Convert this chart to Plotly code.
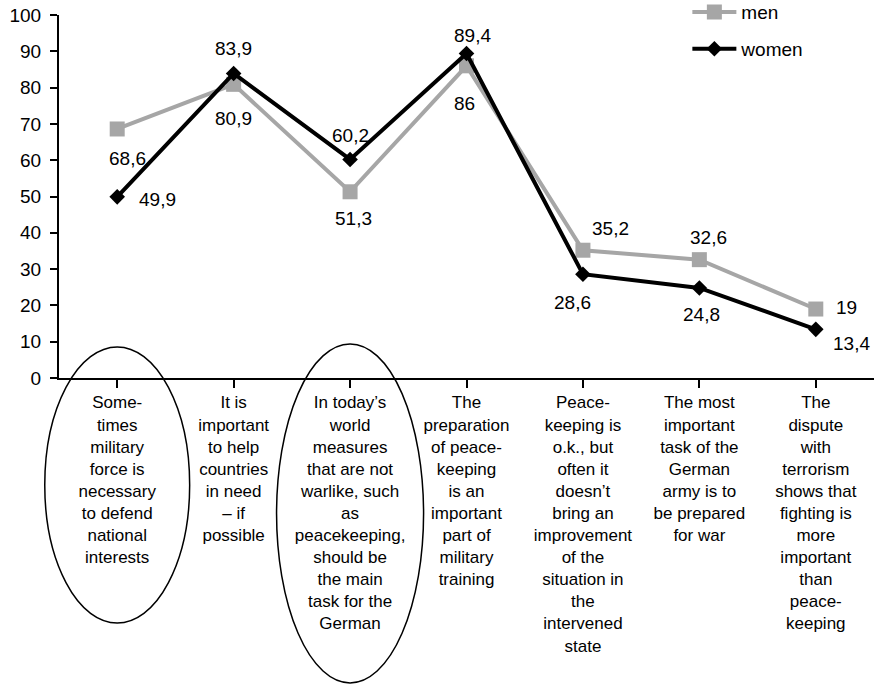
import plotly.graph_objects as go

# Survey statements (x categories)
statements = [
    "Some-<br>times<br>military<br>force is<br>necessary<br>to defend<br>national<br>interests",
    "It is<br>important<br>to help<br>countries<br>in need<br>– if<br>possible",
    "In today’s<br>world<br>measures<br>that are not<br>warlike, such<br>as<br>peacekeeping,<br>should be<br>the main<br>task for the<br>German",
    "The<br>preparation<br>of peace-<br>keeping<br>is an<br>important<br>part of<br>military<br>training",
    "Peace-<br>keeping is<br>o.k., but<br>often it<br>doesn’t<br>bring an<br>improvement<br>of the<br>situation in<br>the<br>intervened<br>state",
    "The most<br>important<br>task of the<br>German<br>army is to<br>be prepared<br>for war",
    "The<br>dispute<br>with<br>terrorism<br>shows that<br>fighting is<br>more<br>important<br>than<br>peace-<br>keeping",
]

# Agreement in percent
men = [68.6, 80.9, 51.3, 86, 35.2, 32.6, 19]
women = [49.9, 83.9, 60.2, 89.4, 28.6, 24.8, 13.4]

y_ticks = list(range(0, 101, 10))

# Value label offsets in pixels (dx, dy), dy positive = upward
men_label_offsets = [(10, -30), (0, -34), (3, -27), (-2, -38), (28, 22), (9, 22), (31, 2)]
women_label_offsets = [(40, -3), (0, 25), (0, 24), (6, 18), (-10, -28), (2, -27), (36, -14)]

FONT = "Arial, Liberation Sans, sans-serif"
GREY = "#A6A6A6"
x_idx = list(range(len(statements)))

fig = go.Figure()
fig.add_trace(go.Scatter(
    x=x_idx, y=men, name="men", mode="lines+markers", legendgroup="m",
    line=dict(color=GREY, width=4),
    marker=dict(symbol="square", size=15, color=GREY),
))
fig.add_trace(go.Scatter(
    x=x_idx, y=women, name="women", mode="lines+markers", legendgroup="w",
    line=dict(color="black", width=4),
    marker=dict(symbol="diamond", size=12, color="black"),
))


def fmt(v):
    return f"{v:g}".replace(".", ",")


for vals, offs in ((men, men_label_offsets), (women, women_label_offsets)):
    for i, (v, (dx, dy)) in enumerate(zip(vals, offs)):
        fig.add_annotation(
            x=i, y=v, text=fmt(v), showarrow=False,
            xshift=dx, yshift=dy,
            font=dict(family=FONT, size=19, color="black"),
        )

# Ellipses highlighting two statements
n = len(statements)
for i, (top, bottom, half_w) in ((0, (0.0854, -0.675, 0.0889)), (2, (0.0937, -0.840, 0.0902))):
    cx = (i + 0.5) / n
    fig.add_shape(
        type="circle", xref="paper", yref="paper",
        x0=cx - half_w, x1=cx + half_w, y0=bottom, y1=top,
        line=dict(color="black", width=1.5),
    )

fig.update_xaxes(
    tickmode="array", tickvals=x_idx, ticktext=statements,
    range=[-0.5, n - 0.5],
    showline=True, linecolor="black", linewidth=2,
    ticks="outside", ticklen=8, tickwidth=1.5, tickcolor="black",
    tickson="boundaries",
    showgrid=False, zeroline=False,
    tickfont=dict(family=FONT, size=17, color="black"),
    tickangle=0,
)
fig.update_yaxes(
    range=[0, 100], tickvals=y_ticks,
    showline=True, linecolor="black", linewidth=2,
    ticks="outside", ticklen=7, tickwidth=1.5, tickcolor="black",
    showgrid=False, zeroline=False,
    tickfont=dict(family=FONT, size=19, color="black"),
    ticklabelstandoff=5,
)

fig.update_layout(
    width=875, height=684,
    margin=dict(l=59, r=1, t=15, b=306, autoexpand=False),
    plot_bgcolor="white", paper_bgcolor="white",
    showlegend=True,
    legend=dict(
        x=0.771, y=1.06, xanchor="left", yanchor="top",
        font=dict(family=FONT, size=19, color="black"),
        bgcolor="rgba(0,0,0,0)", tracegroupgap=9, itemwidth=44,
    ),
)

fig.write_html("out.html")
